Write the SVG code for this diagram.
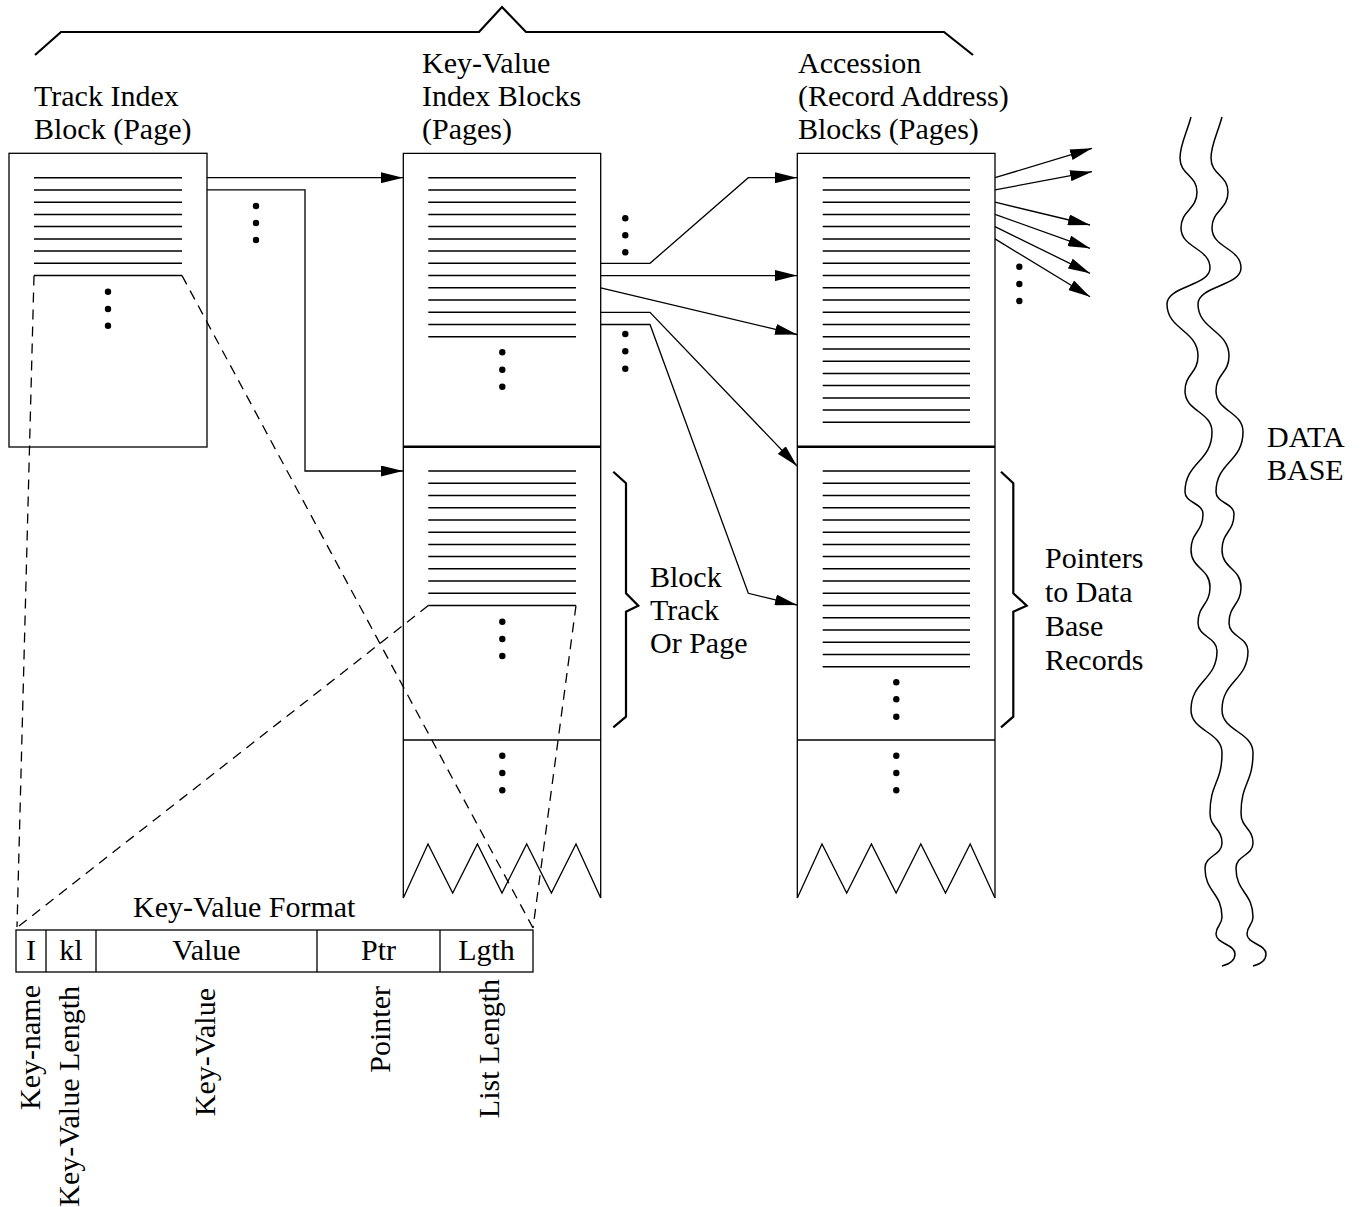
<svg xmlns="http://www.w3.org/2000/svg" width="1366" height="1207" viewBox="0 0 1366 1207">
<style>
  text { font-family: "Liberation Serif", "Times New Roman", serif; font-size: 30px; fill: #000; }
  .box { fill: none; stroke: #000; stroke-width: 1.3; }
  .rows { fill: none; stroke: #000; stroke-width: 1.5; }
  .thick { fill: none; stroke: #000; stroke-width: 2.6; }
  .brace { fill: none; stroke: #000; stroke-width: 2.2; stroke-linejoin: miter; }
  .dash { fill: none; stroke: #000; stroke-width: 1.3; stroke-dasharray: 10 7; }
  .conn { fill: none; stroke: #000; stroke-width: 1.3; marker-end: url(#arr); }
  .wave { fill: none; stroke: #000; stroke-width: 1.5; }
  .dot { fill: #000; }
</style>
<defs>
  <marker id="arr" markerUnits="userSpaceOnUse" markerWidth="22" markerHeight="11" refX="22" refY="5.5" orient="auto">
    <path d="M0,0 L22,5.5 L0,11 z" fill="#000"/>
  </marker>
</defs>
<rect width="1366" height="1207" fill="#fff"/>

<!-- top brace -->
<path id="top-brace" class="brace" d="M35,55 L61,32 H479 L502,7 L526,32 H944 L973,55"/>

<!-- Track Index Block -->
<g id="track-index">
  <text x="34" y="106">Track Index</text>
  <text x="34" y="139">Block (Page)</text>
  <rect class="box" x="9" y="153.3" width="198" height="293.7"/>
  <path class="rows" d="M34,177.7H182M34,189.9H182M34,202.2H182M34,214.4H182M34,226.6H182M34,238.9H182M34,251.1H182M34,263.3H182M34,275.6H182"/>
  <circle class="dot" cx="108" cy="291.7" r="3.2"/>
  <circle class="dot" cx="108" cy="309" r="3.2"/>
  <circle class="dot" cx="108" cy="325.7" r="3.2"/>
</g>

<!-- Key-Value Index Blocks -->
<g id="kv-index">
  <text x="422" y="73">Key-Value</text>
  <text x="422" y="106">Index Blocks</text>
  <text x="422" y="139">(Pages)</text>
  <path class="box" d="M403.3,898 V153.3 H600.7 V898"/>
  <path class="box" d="M403.3,898 L428,844 L452.7,893 L477.4,844 L502,893 L526.7,844 L551.4,893 L576,844 L600.7,898"/>
  <path class="thick" d="M403.3,446.7 H600.7"/>
  <path class="box" d="M403.3,740 H600.7"/>
  <path class="rows" d="M428.3,177.7H576M428.3,189.9H576M428.3,202.2H576M428.3,214.4H576M428.3,226.6H576M428.3,238.9H576M428.3,251.1H576M428.3,263.3H576M428.3,275.6H576M428.3,287.8H576M428.3,300H576M428.3,312.3H576M428.3,324.5H576M428.3,336.7H576"/>
  <path class="rows" d="M428.3,471H576M428.3,483.2H576M428.3,495.5H576M428.3,507.7H576M428.3,519.9H576M428.3,532.2H576M428.3,544.4H576M428.3,556.6H576M428.3,568.8H576M428.3,581.1H576M428.3,593.3H576M428.3,605.6H576"/>
  <circle class="dot" cx="502.3" cy="352.3" r="3.2"/>
  <circle class="dot" cx="502.3" cy="369.7" r="3.2"/>
  <circle class="dot" cx="502.3" cy="386.7" r="3.2"/>
  <circle class="dot" cx="502.3" cy="621.7" r="3.2"/>
  <circle class="dot" cx="502.3" cy="639" r="3.2"/>
  <circle class="dot" cx="502.3" cy="656" r="3.2"/>
  <circle class="dot" cx="502.3" cy="755.7" r="3.2"/>
  <circle class="dot" cx="502.3" cy="773" r="3.2"/>
  <circle class="dot" cx="502.3" cy="790.3" r="3.2"/>
  <path class="brace" d="M613.3,471.7 L626,483.3 V593.3 L638.3,605.7 L626,611.7 V716.7 L613.3,727.3"/>
  <text x="650" y="587">Block</text>
  <text x="650" y="620">Track</text>
  <text x="650" y="653">Or Page</text>
</g>

<!-- Accession Blocks -->
<g id="accession">
  <text x="798" y="73">Accession</text>
  <text x="798" y="106">(Record Address)</text>
  <text x="798" y="139">Blocks (Pages)</text>
  <path class="box" d="M797.3,898 V153.3 H995 V898"/>
  <path class="box" d="M797.3,898 L822,844 L846.7,893 L871.4,844 L896.1,893 L920.8,844 L945.5,893 L970.2,844 L995,898"/>
  <path class="thick" d="M797.3,446.7 H995"/>
  <path class="box" d="M797.3,740 H995"/>
  <path class="rows" d="M822.7,177.7H970M822.7,189.9H970M822.7,202.2H970M822.7,214.4H970M822.7,226.6H970M822.7,238.9H970M822.7,251.1H970M822.7,263.3H970M822.7,275.6H970M822.7,287.8H970M822.7,300H970M822.7,312.3H970M822.7,324.5H970M822.7,336.7H970M822.7,349H970M822.7,361.2H970M822.7,373.4H970M822.7,385.6H970M822.7,397.9H970M822.7,410.1H970M822.7,422.3H970"/>
  <path class="rows" d="M822.7,471H970M822.7,483.2H970M822.7,495.5H970M822.7,507.7H970M822.7,519.9H970M822.7,532.2H970M822.7,544.4H970M822.7,556.6H970M822.7,568.8H970M822.7,581.1H970M822.7,593.3H970M822.7,605.6H970M822.7,617.8H970M822.7,630H970M822.7,642.3H970M822.7,654.5H970M822.7,666.7H970"/>
  <circle class="dot" cx="896.3" cy="682.3" r="3.2"/>
  <circle class="dot" cx="896.3" cy="699.3" r="3.2"/>
  <circle class="dot" cx="896.3" cy="716.7" r="3.2"/>
  <circle class="dot" cx="896.3" cy="755.7" r="3.2"/>
  <circle class="dot" cx="896.3" cy="773" r="3.2"/>
  <circle class="dot" cx="896.3" cy="790.3" r="3.2"/>
  <path class="brace" d="M1001,471.7 L1013.3,483.3 V593.3 L1026.7,605.7 L1013.3,611.7 V716.7 L1001,727.3"/>
  <text x="1045" y="568">Pointers</text>
  <text x="1045" y="602">to Data</text>
  <text x="1045" y="636">Base</text>
  <text x="1045" y="670">Records</text>
</g>

<!-- Data base -->
<g id="database">
  <path id="wv" class="wave" d="M1191,117 C1186,135 1180,145 1180,158 C1180,175 1197,175 1197,192 C1197,210 1181,210 1181,228 C1181,248 1210,248 1210,268 C1210,286 1167,286 1167,304 C1167,330 1198,330 1198,356 C1198,373.5 1185,373.5 1185,391 C1185,411.5 1212,411.5 1212,432 C1212,462 1185,462 1185,492 C1185,503 1203,503 1203,514 C1203,532 1191,532 1191,550 C1191,568.5 1210,568.5 1210,587 C1210,605 1198,605 1198,623 C1198,637 1217,637 1217,651 C1217,680.5 1191,680.5 1191,710 C1191,731.5 1222,731.5 1222,753 C1222,783 1210,783 1210,813 C1210,828 1222,828 1222,843 C1222,855.5 1205,855.5 1205,868 C1205,892.5 1222,892.5 1222,917 C1222,925.5 1216,925.5 1216,934 C1216,944 1235,944 1235,954 C1235,960 1230,964 1222,966"/>
  <use href="#wv" transform="translate(31,0)"/>
  <text x="1267" y="447">DATA</text>
  <text x="1267" y="480">BASE</text>
</g>

<!-- Key-Value Format -->
<g id="kv-format">
  <text x="133" y="917">Key-Value Format</text>
  <rect class="box" x="16" y="930" width="517" height="42"/>
  <path class="box" d="M46,930V972M96,930V972M317,930V972M440,930V972"/>
  <text x="31" y="960" text-anchor="middle">I</text>
  <text x="71" y="960" text-anchor="middle">kl</text>
  <text x="206.5" y="960" text-anchor="middle">Value</text>
  <text x="378.5" y="960" text-anchor="middle">Ptr</text>
  <text x="486.5" y="960" text-anchor="middle">Lgth</text>
  <text transform="translate(40,985) rotate(-90)" text-anchor="end">Key-name</text>
  <text transform="translate(79,986) rotate(-90)" text-anchor="end">Key-Value Length</text>
  <text transform="translate(215,988) rotate(-90)" text-anchor="end">Key-Value</text>
  <text transform="translate(390,986) rotate(-90)" text-anchor="end">Pointer</text>
  <text transform="translate(499,979) rotate(-90)" text-anchor="end">List Length</text>
</g>

<!-- connectors -->
<g id="connectors">
  <path class="conn" d="M207,177.7 H403"/>
  <path class="conn" d="M207,189.9 H305 V471 H403"/>
  <circle class="dot" cx="256" cy="206" r="3.2"/>
  <circle class="dot" cx="256" cy="223" r="3.2"/>
  <circle class="dot" cx="256" cy="240" r="3.2"/>

  <path class="conn" d="M600.7,263.3 H650 L748.3,177.7 H797"/>
  <path class="conn" d="M600.7,275.6 H797"/>
  <path class="conn" d="M600.7,287.8 L797,334.5"/>
  <path class="conn" d="M600.7,312.3 H650 L797,466"/>
  <path class="conn" d="M600.7,324.5 H650 L748.3,593.3 L797,605"/>
  <circle class="dot" cx="625.3" cy="218.3" r="3.2"/>
  <circle class="dot" cx="625.3" cy="235.3" r="3.2"/>
  <circle class="dot" cx="625.3" cy="252.3" r="3.2"/>
  <circle class="dot" cx="625.3" cy="334" r="3.2"/>
  <circle class="dot" cx="625.3" cy="351.3" r="3.2"/>
  <circle class="dot" cx="625.3" cy="368.7" r="3.2"/>

  <path class="conn" d="M995,177.7 L1092,148.3"/>
  <path class="conn" d="M995,189.9 L1092,171.7"/>
  <path class="conn" d="M995,202.2 L1090,225"/>
  <path class="conn" d="M995,214.4 L1090,248.3"/>
  <path class="conn" d="M995,226.6 L1090,273.3"/>
  <path class="conn" d="M995,238.9 L1090,296.7"/>
  <circle class="dot" cx="1019.3" cy="266.7" r="3.2"/>
  <circle class="dot" cx="1019.3" cy="284" r="3.2"/>
  <circle class="dot" cx="1019.3" cy="301" r="3.2"/>

  <path class="dash" d="M34,275.6 L17,927"/>
  <path class="dash" d="M182,275.6 L533,928"/>
  <path class="dash" d="M428.3,605.6 L19,926"/>
  <path class="dash" d="M576,605.6 L533,928"/>
</g>
</svg>
